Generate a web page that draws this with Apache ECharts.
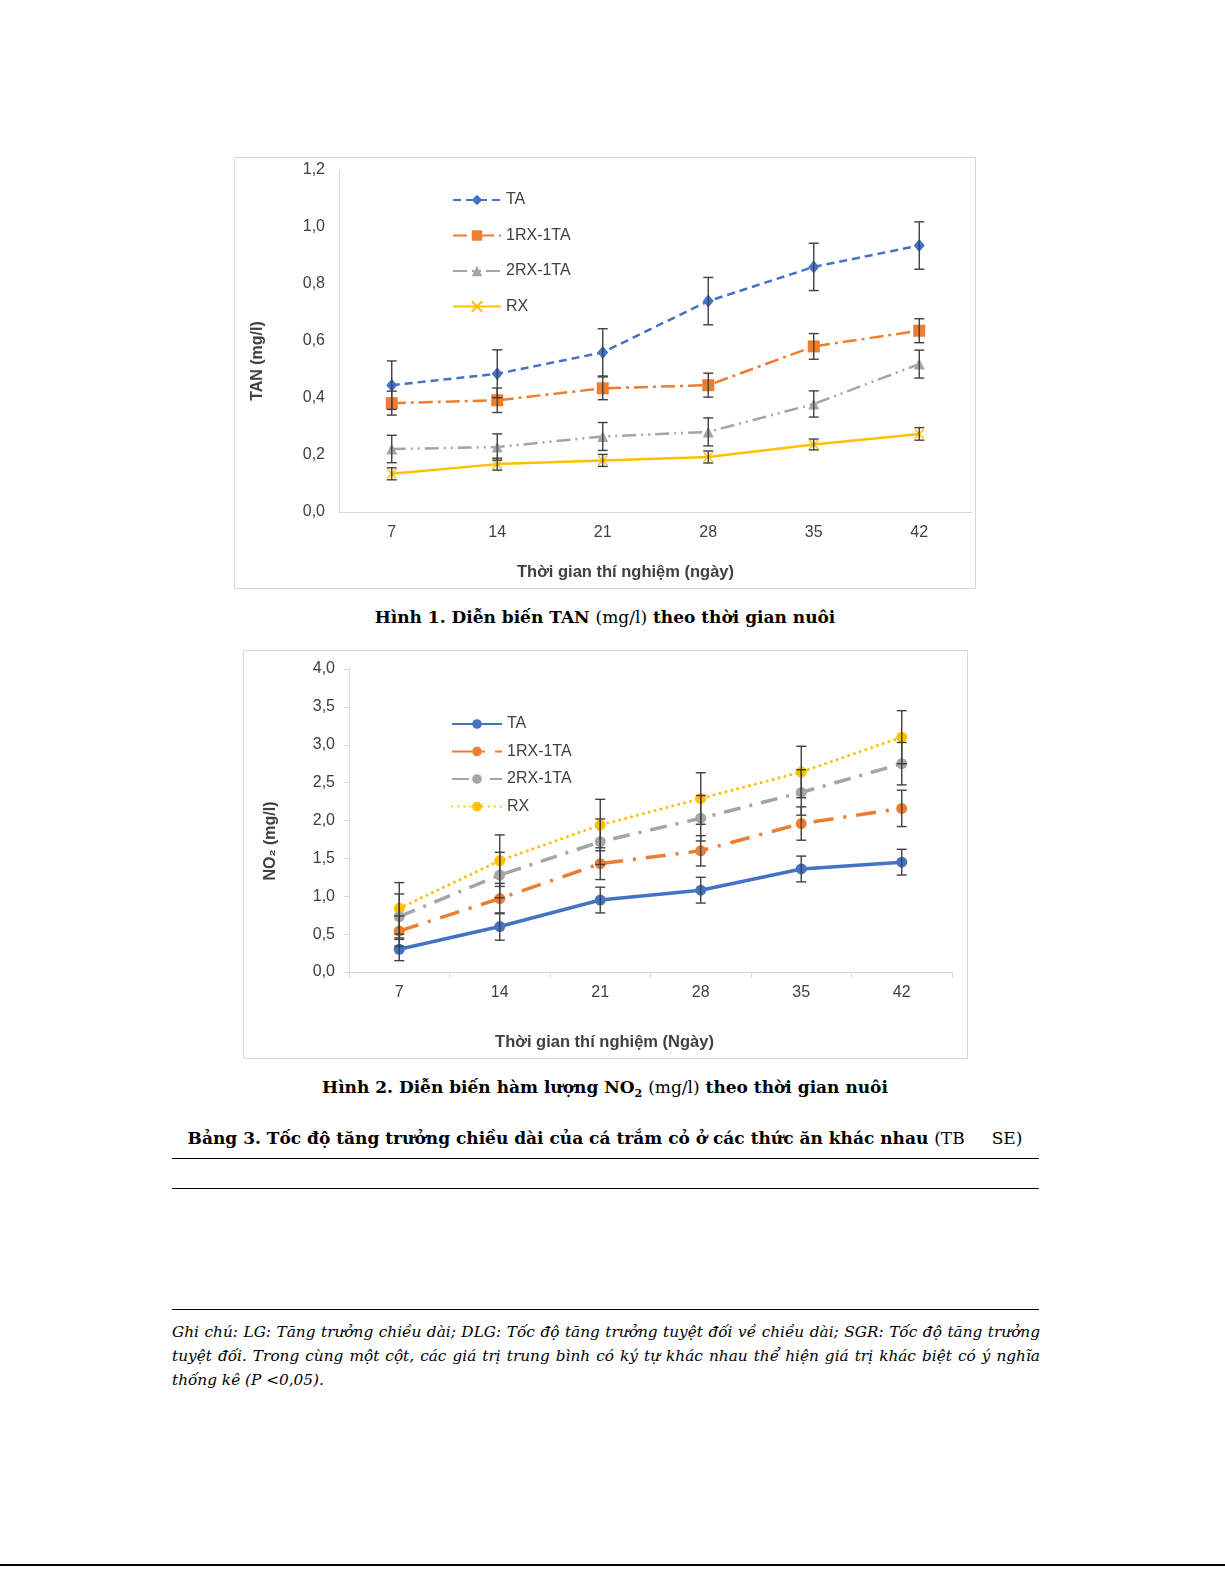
<!DOCTYPE html>
<html><head><meta charset="utf-8">
<script src="https://cdn.jsdelivr.net/npm/echarts/dist/echarts.min.js"></script>
<style>
html,body{margin:0;padding:0;background:#fff;}
body{width:1225px;height:1585px;position:relative;overflow:hidden;font-family:"DejaVu Serif",serif;color:#000;}
.frame{position:absolute;border:1px solid #d9d9d9;box-sizing:border-box;}
#c1{left:234px;top:157px;width:742px;height:432px;}
#c2{left:243px;top:650px;width:725px;height:409px;}
.cap{position:absolute;left:0;width:1210px;text-align:center;font-weight:bold;font-size:17px;line-height:24px;white-space:nowrap;}
.cap .n{font-weight:normal;}
.hr{position:absolute;left:172px;width:867px;height:0;border-top:1.5px solid #000;}
.note{position:absolute;left:172px;width:868px;font-style:italic;font-size:15.3px;line-height:24px;white-space:nowrap;}
.j{text-align:justify;text-align-last:justify;}
#bottom{position:absolute;left:0;width:1225px;top:1564px;height:0;border-top:2px solid #000;}
</style></head>
<body>
<div id="c1" class="frame"></div>
<div class="cap" style="top:605px;">Hình 1. Diễn biến TAN <span class="n">(mg/l)</span> theo thời gian nuôi</div>
<div id="c2" class="frame"></div>
<div class="cap" style="top:1075px;">Hình 2. Diễn biến hàm lượng NO<sub style="font-size:11px;">2</sub> <span class="n">(mg/l)</span> theo thời gian nuôi</div>
<div class="cap" style="top:1126px;">Bảng 3. Tốc độ tăng trưởng chiều dài của cá trắm cỏ ở các thức ăn khác nhau <span class="n">(TB&nbsp;&nbsp;&nbsp;&nbsp; SE)</span></div>
<div class="hr" style="top:1158px;"></div>
<div class="hr" style="top:1188px;"></div>
<div class="hr" style="top:1309px;"></div>
<div class="note j" style="top:1320px;">Ghi chú: LG: Tăng trưởng chiều dài; DLG: Tốc độ tăng trưởng tuyệt đối về chiều dài; SGR: Tốc độ tăng trưởng</div>
<div class="note j" style="top:1344px;">tuyệt đối. Trong cùng một cột, các giá trị trung bình có ký tự khác nhau thể hiện giá trị khác biệt có ý nghĩa</div>
<div class="note" style="top:1368px;">thống kê (P &lt;0,05).</div>
<div id="bottom"></div>
<script>
// ---- data ----
const days = ['7', '14', '21', '28', '35', '42'];
const seriesNames = ['TA', '1RX-1TA', '2RX-1TA', 'RX'];

// Figure 1: TAN (mg/l)
const tanTA = [0.445, 0.485, 0.56, 0.74, 0.86, 0.935];
const tanTAErr = [0.085, 0.084, 0.083, 0.083, 0.083, 0.083];
const tan1RX = [0.382, 0.392, 0.434, 0.445, 0.581, 0.636];
const tan1RXErr = [0.042, 0.043, 0.040, 0.042, 0.045, 0.042];
const tan2RX = [0.221, 0.228, 0.265, 0.281, 0.379, 0.519];
const tan2RXErr = [0.048, 0.046, 0.049, 0.049, 0.046, 0.049];
const tanRX = [0.134, 0.168, 0.181, 0.193, 0.237, 0.274];
const tanRXErr = [0.021, 0.021, 0.021, 0.021, 0.019, 0.022];
const tanTicks = {min: 0, max: 1.2, interval: 0.2};

// Figure 2: NO2 (mg/l)
const no2TA = [0.30, 0.60, 0.95, 1.08, 1.36, 1.45];
const no2TAErr = [0.15, 0.18, 0.17, 0.17, 0.17, 0.17];
const no21RX = [0.54, 0.97, 1.43, 1.60, 1.96, 2.16];
const no21RXErr = [0.20, 0.20, 0.21, 0.20, 0.22, 0.24];
const no22RX = [0.73, 1.28, 1.72, 2.03, 2.37, 2.75];
const no22RXErr = [0.30, 0.30, 0.30, 0.30, 0.30, 0.28];
const no2RX = [0.84, 1.47, 1.94, 2.29, 2.64, 3.10];
const no2RXErr = [0.34, 0.34, 0.34, 0.34, 0.34, 0.35];
const no2Ticks = {min: 0, max: 4, interval: 0.5};

// ---- helpers ----
const fontSans = '"Liberation Sans", Arial, sans-serif';
const comma = v => v.toFixed(1).replace('.', ',');

function errData(vals, errs) {
  return vals.map((v, i) => [i, v - errs[i], v + errs[i]]);
}
function errRender(capHalf) {
  return function (params, api) {
    const x = api.value(0);
    const lo = api.coord([x, api.value(1)]);
    const hi = api.coord([x, api.value(2)]);
    const st = {stroke: '#404040', lineWidth: 1.4};
    return {
      type: 'group',
      children: [
        {type: 'line', shape: {x1: hi[0], y1: hi[1], x2: lo[0], y2: lo[1]}, style: st},
        {type: 'line', shape: {x1: hi[0] - capHalf, y1: hi[1], x2: hi[0] + capHalf, y2: hi[1]}, style: st},
        {type: 'line', shape: {x1: lo[0] - capHalf, y1: lo[1], x2: lo[0] + capHalf, y2: lo[1]}, style: st}
      ]
    };
  };
}
function errSeries(vals, errs, capHalf) {
  return {
    type: 'custom', silent: true, z: 6,
    renderItem: errRender(capHalf),
    encode: {x: 0, y: [1, 2]},
    data: errData(vals, errs)
  };
}

// ---- Chart 1 ----
const ch1 = echarts.init(document.getElementById('c1'), null, {renderer: 'canvas'});
ch1.setOption({
  animation: false,
  textStyle: {fontFamily: fontSans},
  grid: {left: 104, top: 12, width: 633, height: 342},
  legend: {
    orient: 'vertical', left: 212, top: 29,
    itemWidth: 48, itemHeight: 13, itemGap: 19.5,
    textStyle: {fontSize: 16, color: '#404040', fontFamily: fontSans, lineHeight: 16},
    data: seriesNames
  },
  xAxis: {
    type: 'category', data: days,
    axisLine: {lineStyle: {color: '#d9d9d9', width: 1}},
    axisTick: {show: false},
    axisLabel: {fontSize: 16, color: '#404040', margin: 13},
    name: 'Thời gian thí nghiệm (ngày)', nameLocation: 'middle', nameGap: 52,
    nameTextStyle: {fontSize: 16.5, fontWeight: 'bold', color: '#404040', padding: [0, 60, 0, 0]}
  },
  yAxis: {
    type: 'value', min: tanTicks.min, max: tanTicks.max, interval: tanTicks.interval,
    splitLine: {show: false},
    axisLine: {show: true, lineStyle: {color: '#d9d9d9', width: 1}},
    axisTick: {show: false},
    axisLabel: {fontSize: 16, color: '#404040', margin: 14, formatter: comma},
    name: 'TAN (mg/l)', nameLocation: 'middle', nameRotate: 90, nameGap: 73,
    nameTextStyle: {fontSize: 16, fontWeight: 'bold', color: '#404040', padding: [0, 40, 0, 0]}
  },
  series: [
    {name: 'TA', type: 'line', data: tanTA, symbol: 'diamond', symbolSize: [11, 13],
     lineStyle: {color: '#4472C4', width: 2.5, type: [8, 5]}, itemStyle: {color: '#4472C4'}, z: 4},
    {name: '1RX-1TA', type: 'line', data: tan1RX, symbol: 'rect', symbolSize: 12,
     lineStyle: {color: '#ED7D31', width: 2.5, type: [14, 5, 3, 5]}, itemStyle: {color: '#ED7D31'}, z: 3},
    {name: '2RX-1TA', type: 'line', data: tan2RX, symbol: 'triangle', symbolSize: 11,
     lineStyle: {color: '#A5A5A5', width: 2.5, type: [14, 5, 2, 5, 2, 5]}, itemStyle: {color: '#A5A5A5'}, z: 2},
    {name: 'RX', type: 'line', data: tanRX, symbol: 'path://M0,0L10,10M10,0L0,10', symbolSize: 9,
     lineStyle: {color: '#FFC000', width: 2.5, type: 'solid'},
     itemStyle: {color: 'rgba(0,0,0,0)', borderColor: '#FFC000', borderWidth: 1.5}, z: 1},
    errSeries(tanTA, tanTAErr, 5),
    errSeries(tan1RX, tan1RXErr, 5),
    errSeries(tan2RX, tan2RXErr, 5),
    errSeries(tanRX, tanRXErr, 5)
  ]
});

// ---- Chart 2 ----
const ch2 = echarts.init(document.getElementById('c2'), null, {renderer: 'canvas'});
ch2.setOption({
  animation: false,
  textStyle: {fontFamily: fontSans},
  grid: {left: 105, top: 18, width: 603, height: 303},
  legend: {
    orient: 'vertical', left: 202, top: 60,
    itemWidth: 50, itemHeight: 12, itemGap: 11.5,
    textStyle: {fontSize: 16, color: '#404040', fontFamily: fontSans, lineHeight: 16},
    data: seriesNames
  },
  xAxis: {
    type: 'category', data: days,
    axisLine: {lineStyle: {color: '#d9d9d9', width: 1}},
    axisTick: {show: true, length: 6, lineStyle: {color: '#d9d9d9'}},
    axisLabel: {fontSize: 16, color: '#404040', margin: 13},
    name: 'Thời gian thí nghiệm (Ngày)', nameLocation: 'middle', nameGap: 62,
    nameTextStyle: {fontSize: 16.5, fontWeight: 'bold', color: '#404040', padding: [0, 92, 0, 0]}
  },
  yAxis: {
    type: 'value', min: no2Ticks.min, max: no2Ticks.max, interval: no2Ticks.interval,
    splitLine: {show: false},
    axisLine: {show: true, lineStyle: {color: '#d9d9d9', width: 1}},
    axisTick: {show: true, length: 5, lineStyle: {color: '#d9d9d9'}},
    axisLabel: {fontSize: 16, color: '#404040', margin: 14, formatter: comma},
    name: 'NO₂ (mg/l)', nameLocation: 'middle', nameRotate: 90, nameGap: 70,
    nameTextStyle: {fontSize: 16, fontWeight: 'bold', color: '#404040', padding: [0, 41, 0, 0]}
  },
  series: [
    {name: 'TA', type: 'line', data: no2TA, symbol: 'circle', symbolSize: 11,
     lineStyle: {color: '#4472C4', width: 3.5, type: 'solid'}, itemStyle: {color: '#4472C4'}, z: 4},
    {name: '1RX-1TA', type: 'line', data: no21RX, symbol: 'circle', symbolSize: 11,
     lineStyle: {color: '#ED7D31', width: 3.5, type: [20, 10, 3, 10]}, itemStyle: {color: '#ED7D31'}, z: 3},
    {name: '2RX-1TA', type: 'line', data: no22RX, symbol: 'circle', symbolSize: 11,
     lineStyle: {color: '#A5A5A5', width: 3.5, type: [17, 9, 3, 9]}, itemStyle: {color: '#A5A5A5'}, z: 2},
    {name: 'RX', type: 'line', data: no2RX, symbol: 'circle', symbolSize: 11,
     lineStyle: {color: '#FFC000', width: 3, type: [0.1, 6], cap: 'round'}, itemStyle: {color: '#FFC000'}, z: 1},
    errSeries(no2TA, no2TAErr, 5),
    errSeries(no21RX, no21RXErr, 5),
    errSeries(no22RX, no22RXErr, 5),
    errSeries(no2RX, no2RXErr, 5)
  ]
});
</script>
</body></html>
